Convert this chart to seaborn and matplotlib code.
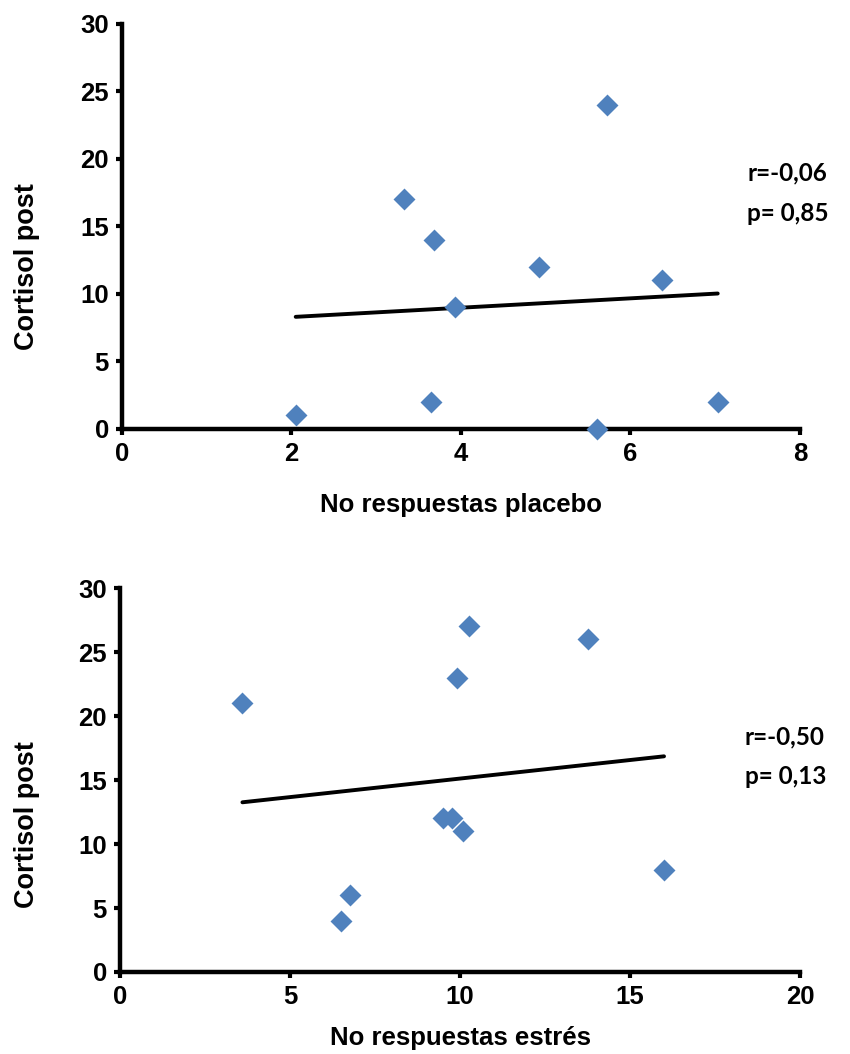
import matplotlib
matplotlib.use("Agg")
import matplotlib.pyplot as plt
import seaborn as sns
import pandas as pd

# Data
placebo_x = [2.05, 3.33, 3.68, 3.65, 3.93, 4.92, 5.60, 5.72, 6.37, 7.03]
placebo_y = [1, 17, 14, 2, 9, 12, 0, 24, 11, 2]
estres_x = [3.6, 6.5, 6.75, 9.5, 9.75, 9.9, 10.1, 10.25, 13.75, 16.0]
estres_y = [21, 4, 6, 12, 12, 23, 11, 27, 26, 8]
top_xticks = [0, 2, 4, 6, 8]
bot_xticks = [0, 5, 10, 15, 20]
yticks = [0, 5, 10, 15, 20, 25, 30]
top_stats = ["r=-0,06", "p= 0,85"]
bot_stats = ["r=-0,50", "p= 0,13"]

sns.set_style("white")
plt.rcParams['font.family'] = ['Liberation Sans', 'DejaVu Sans']
plt.rcParams['font.weight'] = 'bold'
for k in ['text.color', 'axes.labelcolor', 'xtick.color', 'ytick.color']:
    plt.rcParams[k] = 'black'

fig = plt.figure(figsize=(8.5, 10.54), dpi=100)
ax1 = fig.add_axes([0.1435, 0.5930, 0.7976, 0.3843])
ax2 = fig.add_axes([0.1412, 0.0778, 0.8000, 0.3643])

blue = "#4F81BD"

panels = [
    (ax1, placebo_x, placebo_y, top_xticks, "No respuestas placebo", top_stats,
     (0.922, 0.632, 0.533), (-0.188, -0.140, 0.402)),
    (ax2, estres_x, estres_y, bot_xticks, "No respuestas estrés", bot_stats,
     (0.919, 0.612, 0.508), (-0.172, -0.137, 0.385)),
]

for ax, xs, ys, xt, xlabel, stats, tpos, lpos in panels:
    df = pd.DataFrame({"x": xs, "y": ys})
    sns.regplot(data=df, x="x", y="y", ax=ax, scatter=False, ci=None,
                truncate=True, line_kws=dict(color="black", lw=2.8, zorder=2))
    sns.scatterplot(data=df, x="x", y="y", ax=ax, marker="D", s=125,
                    color=blue, edgecolor=blue, linewidth=0, zorder=4,
                    clip_on=False)
    ax.set_xlim(xt[0], xt[-1])
    ax.set_ylim(0, 30)
    ax.set_xticks(xt)
    ax.set_yticks(yticks)
    ax.set_xticklabels([str(v) for v in xt], fontsize=18.5, fontweight='bold')
    ax.set_yticklabels([str(v) for v in yticks], fontsize=18.5, fontweight='bold')
    for side in ["top", "right"]:
        ax.spines[side].set_visible(False)
    for side in ["left", "bottom"]:
        ax.spines[side].set_linewidth(3.2)
        ax.spines[side].set_color("black")
        ax.spines[side].set_capstyle("projecting")
        ax.spines[side].set_zorder(3)
    ax.tick_params(axis="both", direction="out", length=4.5, width=3.0,
                   color="black", pad=5, bottom=True, left=True)
    ax.set_xlabel(xlabel, fontsize=18.5, fontweight='bold', va='center')
    ax.set_ylabel("Cortisol post", fontsize=19.5, fontweight='bold', va='center')
    ax.xaxis.set_label_coords(0.5, lpos[0])
    ax.yaxis.set_label_coords(lpos[1], lpos[2])
    for txt, yy in zip(stats, tpos[1:]):
        ax.text(tpos[0], yy, txt, transform=ax.transAxes, ha='left', va='center',
                fontsize=17.5, fontweight='bold', family=['Lato', 'DejaVu Sans'],
                color="black")

fig.savefig("out.png", dpi=100, facecolor="white")
